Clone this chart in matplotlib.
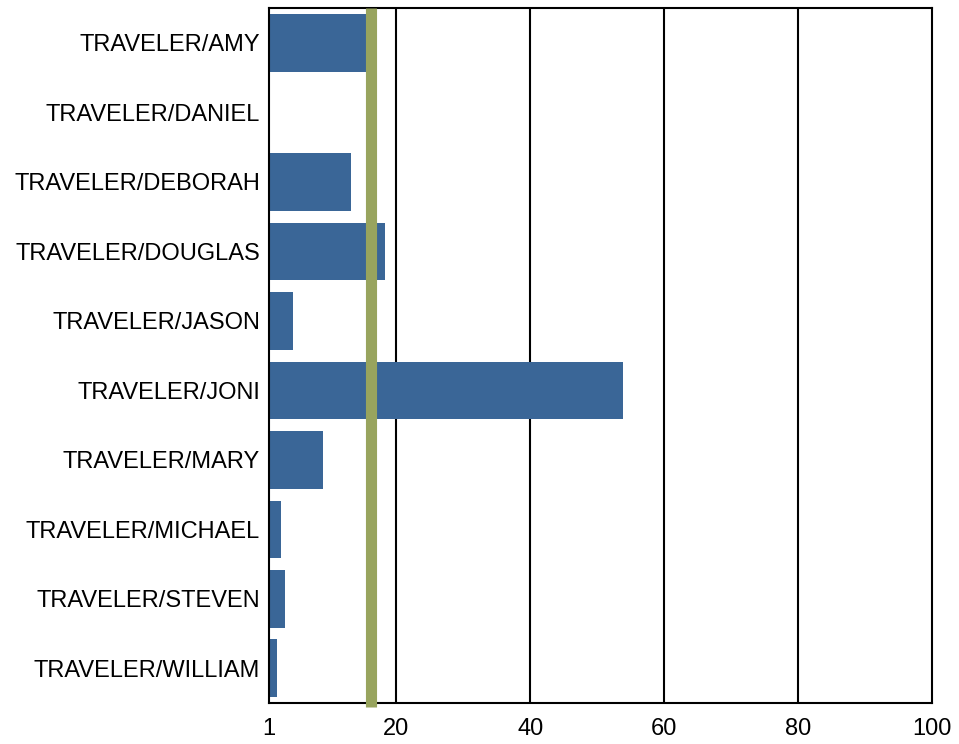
import numpy as np
import matplotlib.pyplot as plt

plt.rcParams['font.family'] = ['Liberation Sans', 'DejaVu Sans']

travelers = ['TRAVELER/AMY', 'TRAVELER/DANIEL', 'TRAVELER/DEBORAH', 'TRAVELER/DOUGLAS',
             'TRAVELER/JASON', 'TRAVELER/JONI', 'TRAVELER/MARY', 'TRAVELER/MICHAEL',
             'TRAVELER/STEVEN', 'TRAVELER/WILLIAM']
values = [15.7, 0, 13.3, 18.3, 4.6, 53.9, 9.1, 2.8, 3.4, 2.2]
ref_value = 16.25
xticks = [1, 20, 40, 60, 80, 100]

BAR = '#3a6697'
REF = '#98a45e'

fig = plt.figure(figsize=(9.59, 7.44), dpi=100)
ax = fig.add_axes([0.2805, 0.055, 0.6913, 0.934])

y = np.arange(len(travelers))
ax.barh(y, values, height=0.83, color=BAR, zorder=2)

# reference line, runs a little past the bottom spine
ax.axvline(ref_value, ymin=-0.006, ymax=1, color=REF, lw=8, zorder=3,
           clip_on=False, solid_capstyle='butt')

ax.set_xlim(1, 100)
ax.set_ylim(len(travelers) - 0.5, -0.5)
ax.set_xticks(xticks)
ax.set_xticklabels([str(t) for t in xticks])
ax.set_yticks(y)
ax.set_yticklabels(travelers)

for t in xticks[1:-1]:
    ax.axvline(t, color='black', lw=1.5, zorder=1)

ax.tick_params(axis='both', length=0, labelsize=17)
ax.tick_params(axis='y', pad=6.5)
ax.tick_params(axis='x', pad=10.5)
for s in ax.spines.values():
    s.set_linewidth(1.5)
    s.set_color('black')

fig.savefig('out.png', dpi=100)
